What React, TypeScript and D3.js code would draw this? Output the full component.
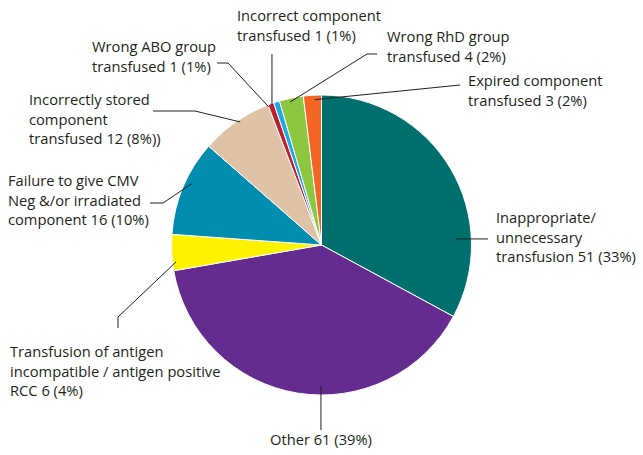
import React from "react";
import * as d3 from "d3";

const categories = [
  "Inappropriate/ unnecessary transfusion",
  "Other",
  "Transfusion of antigen incompatible / antigen positive RCC",
  "Failure to give CMV Neg &/or irradiated component",
  "Incorrectly stored component transfused",
  "Wrong ABO group transfused",
  "Incorrect component transfused",
  "Wrong RhD group transfused",
  "Expired component transfused",
];
const values = [51, 61, 6, 16, 12, 1, 1, 4, 3];
const colors = ["#006f6d", "#652c8f", "#fff200", "#008db0", "#e0c2a7", "#be1e2d", "#1ca9e1", "#8dc63f", "#f26522"];
const labelLines = [
  ["Inappropriate/", "unnecessary", "transfusion 51 (33%)"],
  ["Other 61 (39%)"],
  ["Transfusion of antigen", "incompatible / antigen positive", "RCC 6 (4%)"],
  ["Failure to give CMV", "Neg &/or irradiated", "component 16 (10%)"],
  ["Incorrectly stored", "component", "transfused 12 (8%))"],
  ["Wrong ABO group", "transfused 1 (1%)"],
  ["Incorrect component", "transfused 1 (1%)"],
  ["Wrong RhD group", "transfused 4 (2%)"],
  ["Expired component", "transfused 3 (2%)"],
];

// layout: anchor position inside slice (t = fraction along slice, k = fraction of radius),
// leader bends, text position
type Layout = {
  t: number; k: number;
  pts: ([number, number] | ["x", number] | ["y", number])[];
  tx: number; ty: number; anchor?: string;
};
const layouts: Layout[] = [
  { t: 0.738, k: 0.897, pts: [["y", 488]], tx: 496, ty: 223 },
  { t: 0.436, k: 0.94, pts: [["x", 430]], tx: 0, ty: 445, anchor: "middle" },
  { t: 0.23, k: 0.977, pts: [[118, 317], [118, 328]], tx: 10, ty: 357 },
  { t: 0.57, k: 0.957, pts: [[163, 203], [150, 203]], tx: 8, ty: 186 },
  { t: 0.55, k: 0.983, pts: [[195, 111], [153, 111]], tx: 29, ty: 105 },
  { t: 0.0, k: 0.985, pts: [[228, 63], [217, 63]], tx: 92, ty: 52 },
  { t: -0.39, k: 0.99, pts: [["x", 54]], tx: 237, ty: 21 },
  { t: 0.42, k: 0.976, pts: [[367, 54], [377, 54]], tx: 387, ty: 42 },
  { t: 0.63, k: 0.97, pts: [[460, 85]], tx: 468, ty: 86 },
];

const W = 643, H = 455;
const cx = 321.5, cy = 245, R = 150;
const textColor = "#231f20";
const font = "'Open Sans', 'Noto Sans', sans-serif";

export default function App() {
  const pie = d3.pie<number>().sort(null).value((d) => d).startAngle(0).endAngle(2 * Math.PI);
  const arcs = pie(values);
  const arc = d3.arc<d3.PieArcDatum<number>>().innerRadius(0).outerRadius(R);
  const line = d3.line();

  return (
    <svg width={W} height={H} style={{ position: "absolute", left: 0, top: 0, background: "#fff" }}>
      <g transform={`translate(${cx},${cy})`}>
        {arcs.map((a, i) => (
          <path key={i} d={arc(a) || ""} fill={colors[i]} stroke="#fff" strokeWidth={1} strokeLinejoin="round" />
        ))}
      </g>
      {arcs.map((a, i) => {
        const L = layouts[i];
        const ang = a.startAngle + L.t * (a.endAngle - a.startAngle);
        const ax = cx + R * L.k * Math.sin(ang);
        const ay = cy - R * L.k * Math.cos(ang);
        const pts: [number, number][] = [[ax, ay]];
        for (const p of L.pts) {
          if (p[0] === "y") pts.push([p[1] as number, ay]);
          else if (p[0] === "x") pts.push([ax, p[1] as number]);
          else pts.push(p as [number, number]);
        }
        const tx = L.anchor === "middle" ? ax : L.tx;
        return (
          <g key={i}>
            <path d={line(pts) || ""} fill="none" stroke={textColor} strokeWidth={1} />
            <text x={tx} y={L.ty} fill={textColor} fontFamily={font} fontSize={14.7} textAnchor={L.anchor || "start"}>
              {labelLines[i].map((s, j) => (
                <tspan key={j} x={tx} y={L.ty + j * 19.7}>{s}</tspan>
              ))}
            </text>
          </g>
        );
      })}
    </svg>
  );
}
